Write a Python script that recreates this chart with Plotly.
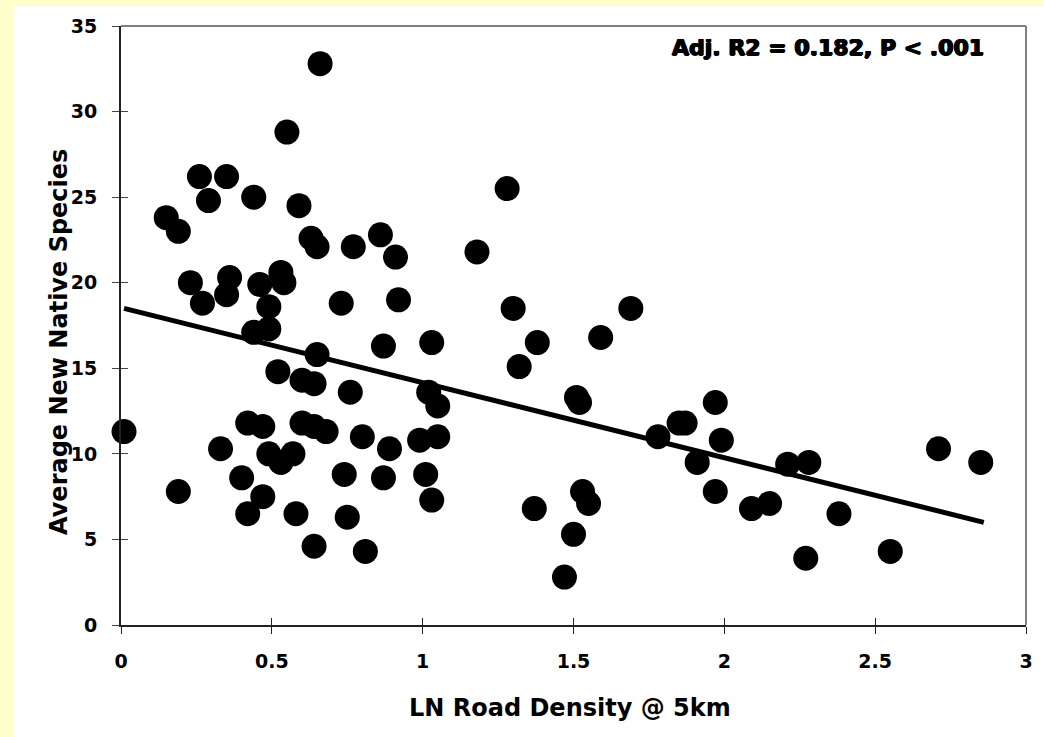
import plotly.graph_objects as go

road_density = [0.01, 0.15, 0.19, 0.19, 0.23, 0.26, 0.27, 0.29, 0.33, 0.35, 0.35, 0.36, 0.40, 0.42, 0.42,
                0.44, 0.44, 0.46, 0.47, 0.47, 0.49, 0.49, 0.49, 0.52, 0.53, 0.53, 0.54, 0.55, 0.57, 0.58,
                0.59, 0.60, 0.60, 0.63, 0.65, 0.64, 0.64, 0.64, 0.65, 0.66, 0.68, 0.73, 0.74, 0.75, 0.76,
                0.77, 0.80, 0.81, 0.86, 0.87, 0.87, 0.89, 0.91, 0.92, 0.99, 1.01, 1.02, 1.03, 1.03, 1.05,
                1.05, 1.18, 1.28, 1.30, 1.32, 1.37, 1.38, 1.47, 1.50, 1.51, 1.52, 1.53, 1.55, 1.59, 1.69,
                1.78, 1.85, 1.87, 1.91, 1.97, 1.97, 1.99, 2.09, 2.15, 2.21, 2.27, 2.28, 2.38, 2.55, 2.71,
                2.85]
native_species = [11.3, 23.8, 23.0, 7.8, 20.0, 26.2, 18.8, 24.8, 10.3, 26.2, 19.3, 20.3, 8.6, 6.5, 11.8,
                  25.0, 17.1, 19.9, 11.6, 7.5, 18.6, 17.3, 10.0, 14.8, 9.5, 20.6, 20.0, 28.8, 10.0, 6.5,
                  24.5, 11.8, 14.3, 22.6, 22.1, 11.6, 14.1, 4.6, 15.8, 32.8, 11.3, 18.8, 8.8, 6.3, 13.6,
                  22.1, 11.0, 4.3, 22.8, 16.3, 8.6, 10.3, 21.5, 19.0, 10.8, 8.8, 13.6, 16.5, 7.3, 12.8,
                  11.0, 21.8, 25.5, 18.5, 15.1, 6.8, 16.5, 2.8, 5.3, 13.3, 13.0, 7.8, 7.1, 16.8, 18.5,
                  11.0, 11.8, 11.8, 9.5, 13.0, 7.8, 10.8, 6.8, 7.1, 9.4, 3.9, 9.5, 6.5, 4.3, 10.3,
                  9.5]
fit_x = [0.01, 2.86]
fit_y = [18.5, 6.0]
annotation_text = "Adj. R2 = 0.182, P < .001"
x_title = "LN Road Density @ 5km"
y_title = "Average New Native Species"

W, H = 1044, 737
L, R, T, B = 121, 18, 26, 112
pw, ph = W - L - R, H - T - B

def px(xp):
    return (xp - L) / pw

def py(yp):
    return (H - B - yp) / ph

FONT = "DejaVu Sans, Liberation Sans, Arial, sans-serif"

fig = go.Figure()
fig.add_trace(go.Scatter(x=road_density, y=native_species, mode="markers",
                         marker=dict(size=25, color="black"), cliponaxis=False, showlegend=False))
fig.add_trace(go.Scatter(x=fit_x, y=fit_y, mode="lines",
                         line=dict(color="black", width=5), showlegend=False))

tickfont = dict(family=FONT, size=19, color="black", weight="bold")
fig.update_layout(
    width=W, height=H,
    margin=dict(l=L, r=R, t=T, b=B),
    paper_bgcolor="#FFFFCC",
    plot_bgcolor="white",
    xaxis=dict(range=[0, 3], dtick=0.5, tick0=0, showgrid=False, zeroline=False,
               showline=True, linecolor="#222222", linewidth=2,
               ticks="outside", ticklen=7, tickcolor="#222222", tickwidth=1,
               tickfont=tickfont, ticklabelstandoff=11),
    yaxis=dict(range=[0, 35], dtick=5, tick0=0, showgrid=False, zeroline=False,
               showline=True, linecolor="#222222", linewidth=2,
               ticks="outside", ticklen=7, tickcolor="#444444", tickwidth=1,
               tickfont=tickfont, ticklabelstandoff=11),
    xaxis2=dict(range=[0, 3], dtick=0.5, tick0=0, overlaying="x", showgrid=False, zeroline=False,
                showline=False, ticks="inside", ticklen=7, tickcolor="#222222", showticklabels=False),
    yaxis2=dict(range=[0, 35], dtick=5, tick0=0, overlaying="y", showgrid=False, zeroline=False,
                showline=False, ticks="inside", ticklen=7, tickcolor="#444444", showticklabels=False),
    shapes=[
        dict(type="rect", xref="paper", yref="paper", x0=px(13), x1=px(W + 5), y0=py(H + 5), y1=py(6),
             fillcolor="white", line=dict(width=0), layer="below"),
        dict(type="line", xref="paper", yref="paper", x0=0, x1=1, y0=1, y1=1,
             line=dict(color="#808080", width=2)),
        dict(type="line", xref="paper", yref="paper", x0=1, x1=1, y0=0, y1=1,
             line=dict(color="#808080", width=2)),
    ],
    annotations=[
        dict(text=annotation_text, xref="paper", yref="paper", x=px(986), y=py(48),
             xanchor="right", yanchor="middle", showarrow=False,
             font=dict(family=FONT, size=22, color="black", weight="bold",
                       shadow="0.8px 0 0 black, -0.8px 0 0 black, 0 0.6px 0 black, 0 -0.4px 0 black")),
        dict(text=x_title, xref="paper", yref="paper", x=px(570), y=py(708),
             xanchor="center", yanchor="middle", showarrow=False,
             font=dict(family=FONT, size=24, color="black", weight="bold")),
        dict(text=y_title, xref="paper", yref="paper", x=px(59), y=py(342),
             xanchor="center", yanchor="middle", showarrow=False, textangle=-90,
             font=dict(family=FONT, size=24, color="black", weight="bold")),
    ],
)
# overlay axes only supply the inward half of the crossing tick marks
fig.add_trace(go.Scatter(x=[None], y=[None], xaxis="x2", yaxis="y2", showlegend=False))

fig.write_html("out.html")
